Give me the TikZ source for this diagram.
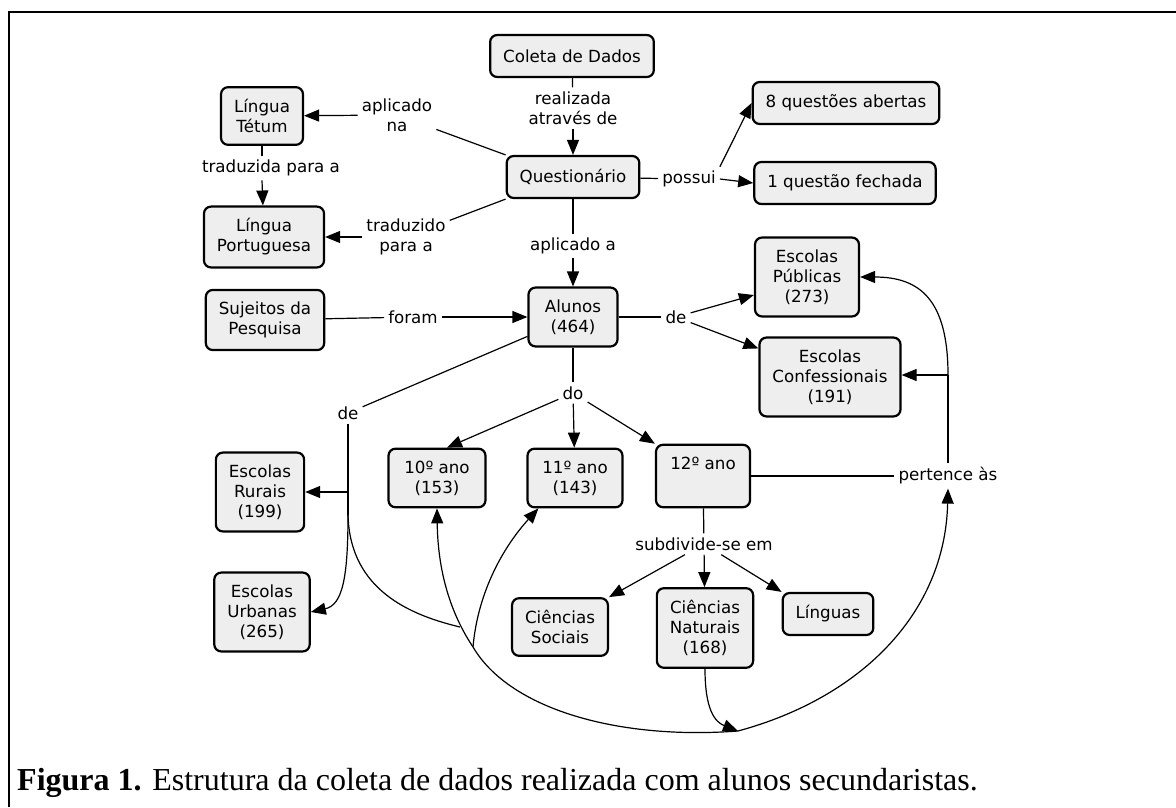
\documentclass[tikz,border=0pt]{standalone}
\usepackage{fontspec}
\setmainfont{Liberation Serif}
\newfontfamily\mapafont{DejaVu Sans}
\usetikzlibrary{arrows.meta}
\definecolor{cinza}{RGB}{238,238,238}
\tikzset{
    conceito/.style={draw, line width=2.2pt, rounded corners=7pt, fill=cinza, align=center,
        font=\mapafont\fontsize{16.7}{20}\selectfont, inner xsep=13pt, inner ysep=12pt, minimum height=42pt},
    frase/.style={align=center, font=\mapafont\fontsize{16.7}{20}\selectfont, inner sep=4pt},
    liga/.style={line width=1.2pt},
    seta/.style={liga, -{Triangle[length=15pt,width=12pt]}},
}
\begin{document}
\begin{tikzpicture}[x=1pt, y=-1pt]
        \useasboundingbox (0, 0) rectangle (1176, 807);
        %边框
        \draw[line width=2.5pt] (9, 807) -- (9, 12) -- (1176, 12);
        %概念节点
        \node[conceito] (coleta) at (572, 56) {Coleta de Dados};
        \node[conceito] (quest) at (573, 177) {Questionário};
        \node[conceito] (tetum) at (262, 116) {Língua\\Tétum};
        \node[conceito] (portug) at (264, 237) {Língua\\Portuguesa};
        \node[conceito] (abertas) at (846, 103) {8 questões abertas};
        \node[conceito] (fechada) at (845, 183) {1 questão fechada};
        \node[conceito] (sujeitos) at (265, 320) {Sujeitos da\\Pesquisa};
        \node[conceito, minimum width=89pt] (alunos) at (573, 317) {Alunos\\(464)};
        \node[conceito, minimum width=104pt] (publicas) at (807, 277) {Escolas\\Públicas\\(273)};
        \node[conceito] (confess) at (830, 377) {Escolas\\Confessionais\\(191)};
        \node[conceito, minimum width=97pt] (ano10) at (437, 478) {10º ano\\(153)};
        \node[conceito, minimum width=95pt] (ano11) at (575, 478) {11º ano\\(143)};
        \node[conceito, minimum width=94pt] (ano12) at (703, 476) {12º ano\\\strut};
        \node[conceito] (rurais) at (260, 492) {Escolas\\Rurais\\(199)};
        \node[conceito] (urbanas) at (262, 612) {Escolas\\Urbanas\\(265)};
        \node[conceito] (sociais) at (560, 627) {Ciências\\Sociais};
        \node[conceito] (naturais) at (705, 628) {Ciências\\Naturais\\(168)};
        \node[conceito] (linguas) at (828, 614) {Línguas};
        %连接词
        \node[frase] (realiz) at (573, 108) {realizada\\através de};
        \node[frase] (aplna) at (397, 115) {aplicado\\na};
        \node[frase] (tradzda) at (271, 168) {traduzida para a};
        \node[frase] (tradzdo) at (406, 237) {traduzido\\para a};
        \node[frase] (aplA) at (573, 246) {aplicado a};
        \node[frase] (possui) at (689, 179) {possui};
        \node[frase] (foram) at (413, 317) {foram};
        \node[frase] (deR) at (676, 317) {de};
        \node[frase] (do) at (573, 393) {do};
        \node[frase] (deL) at (348, 413) {de};
        \node[frase] (pertence) at (948, 476) {pertence às};
        \node[frase] (subdiv) at (704, 544) {subdivide-se em};
        %连线
        \draw[liga] (coleta) -- (realiz);
        \draw[seta] (realiz) -- (quest);
        \draw[liga] (quest.north west) -- (aplna);
        \draw[seta] (aplna) -- (tetum);
        \draw[liga] (tetum) -- (tetum |- tradzda.north);
        \draw[seta] (tetum |- tradzda.south) -- (portug);
        \draw[liga] (quest.south west) -- (tradzdo);
        \draw[seta] (tradzdo) -- (portug);
        \draw[liga] (quest) -- (aplA);
        \draw[seta] (aplA) -- (alunos);
        \draw[liga] (quest) -- (possui);
        \draw[seta] (possui.east) -- (fechada.west);
        \draw[seta] (possui.north east) -- (abertas.west);
        \draw[liga] (sujeitos) -- (foram);
        \draw[seta] (foram) -- (alunos);
        \draw[liga] (alunos) -- (deR);
        \draw[seta] (deR) -- ([yshift=-18pt]publicas.west);
        \draw[seta] (deR) -- ([yshift=-12pt]confess.north west);
        \draw[liga] (alunos) -- (do);
        \draw[seta] (do) -- ([xshift=10pt]ano10.north);
        \draw[seta] (do) -- (ano11);
        \draw[seta] (do) -- (ano12.north west);
        \draw[liga] (ano12) -- (pertence);
        \draw[liga] (ano12) -- (subdiv);
        \draw[seta] (subdiv) -- (sociais.north east);
        \draw[seta] (subdiv) -- (naturais);
        \draw[seta] (subdiv) -- (linguas.north west);
        %右侧: pertence às
        \coordinate (K) at (948, 375);
        \draw[liga] (pertence) -- (K);
        \draw[seta] (K) -- (confess.east |- K);
        \draw[seta] (K) .. controls (948, 300) and (920, 277) .. (publicas.east);
        %左侧: de -> Rurais, Urbanas
        \coordinate (S) at (348, 515);
        \coordinate (J1) at (460, 627);
        \coordinate (J2) at (473, 647);
        \coordinate (J3) at (738, 731);
        \draw[liga] (deL) -- (S);
        \draw[liga] (alunos) -- (deL);
        \draw[seta] (deL.south |- rurais) -- (rurais);
        \draw[seta] (S) .. controls (348, 580) and (342, 605) .. (urbanas.east);
        \draw[liga] (S) .. controls (350, 590) and (410, 615) .. (J1);
        %底部曲线
        \draw[seta] (J3) .. controls (620, 740) and (510, 710) .. (J2) .. controls (455, 620) and (438, 580) .. (ano10.south);
        \draw[seta] (J2) .. controls (478, 590) and (505, 545) .. ([xshift=12pt]ano11.south west);
        \draw[seta] (naturais.south) .. controls (705, 710) and (715, 722) .. (J3);
        \draw[seta] (J3) .. controls (860, 698) and (945, 614) .. (pertence.south);
        %图注
        \node[anchor=base west, inner sep=0pt, font=\fontsize{32}{38}\selectfont] (legenda) at (17, 790)
            {\textbf{Figura 1.} Estrutura da coleta de dados realizada com alunos secundaristas.};
\end{tikzpicture}
\end{document}
